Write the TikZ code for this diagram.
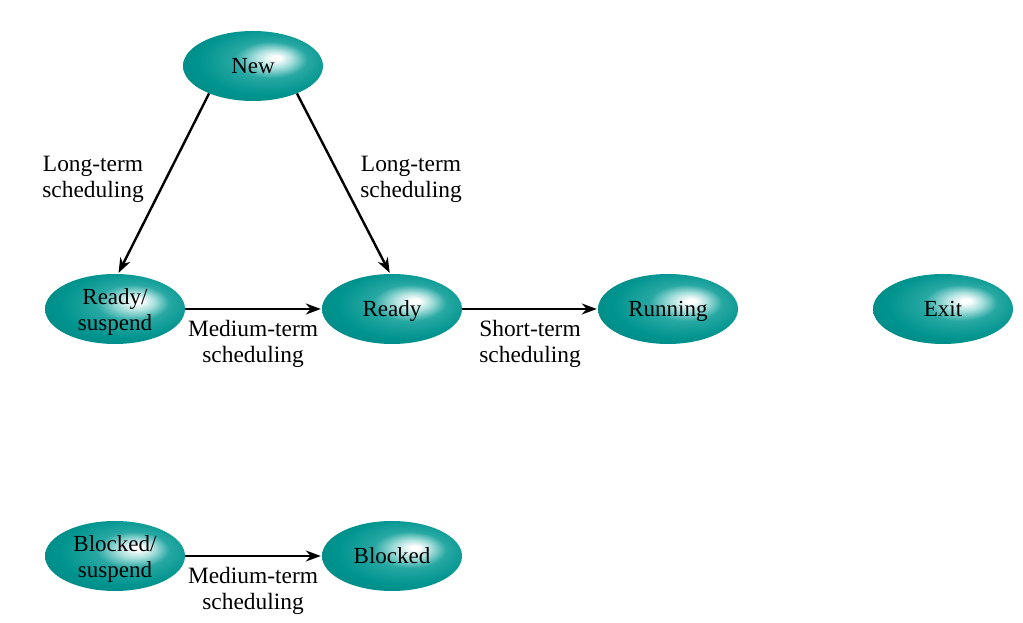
\documentclass[tikz,border=0pt]{standalone}
\usepackage{fontspec}
\setmainfont{Liberation Serif}
\usetikzlibrary{shapes.geometric,arrows.meta}
\definecolor{tealA}{RGB}{0,148,143}
\definecolor{tealB}{RGB}{0,130,126}
\definecolor{tealC}{RGB}{170,224,221}
\definecolor{tealD}{RGB}{40,168,163}
\pgfdeclareradialshading{ballshade}{\pgfpoint{8.5bp}{6bp}}{%
  color(0bp)=(white); color(1.5bp)=(white); color(6.5bp)=(tealC); color(13bp)=(tealD); color(24bp)=(tealA); color(38bp)=(tealB); color(50bp)=(tealB)}
\tikzset{
  state/.style={ellipse, minimum width=140pt, minimum height=70pt, inner sep=0pt,
    shading=ballshade, font=\fontsize{23}{26}\selectfont, align=center},
  one/.style={text height=15.2pt, text depth=0pt},
  lbl/.style={font=\fontsize{23.4}{26}\selectfont, align=center, inner sep=0pt},
  arr/.style={line width=2.4pt, -{Stealth[length=15pt,width=11pt]}, shorten >=1pt}
}
\begin{document}
\begin{tikzpicture}[x=1pt,y=1pt]
\useasboundingbox (0,0) rectangle (1023,623);
\node[state,one] (new) at (253,557) {New};
\node[state] (rs) at (115,314) {};
\node[lbl, font=\fontsize{23}{26}\selectfont] (rst) at (115,311) {Ready/\\suspend};
\node[state,one] (ready) at (392,314) {Ready};
\node[state,one] (run) at (668,314) {Running};
\node[state,one] (exit) at (943,314) {Exit};
\node[state] (bs) at (115,67) {};
\node[lbl, font=\fontsize{23}{26}\selectfont] (bst) at (115,64) {Blocked/\\suspend};
\node[state,one] (blk) at (392,67) {Blocked};
\draw[arr] (new.212) -- (rs.85);
\draw[arr] (new.328) -- (ready.93);
\draw[arr] (rs) -- (ready);
\draw[arr] (ready) -- (run);
\draw[arr] (bs) -- (blk);
\node[lbl] (l1) at (93,444) {Long-term\\scheduling};
\node[lbl] (l2) at (411,444) {Long-term\\scheduling};
\node[lbl] (l3) at (253,279) {Medium-term\\scheduling};
\node[lbl] (l4) at (530,279) {Short-term\\scheduling};
\node[lbl] (l5) at (253,32) {Medium-term\\scheduling};
\end{tikzpicture}
\end{document}
